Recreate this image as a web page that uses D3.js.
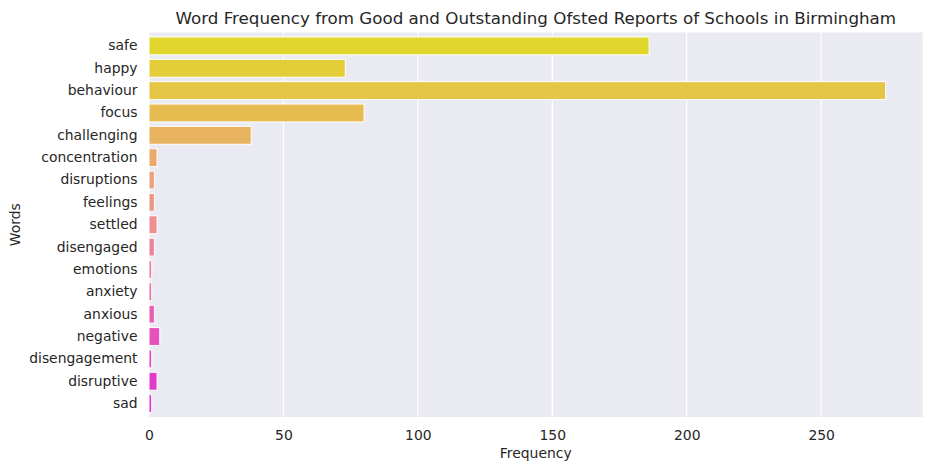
<!DOCTYPE html>
<html>
<head>
<meta charset="utf-8">
<script src="https://cdn.jsdelivr.net/npm/d3@7"></script>
<style>
  body { margin: 0; background: #fff; }
  svg { font-family: "DejaVu Sans", sans-serif; }
</style>
</head>
<body>
<div id="chart"></div>
<script>
// data
const words = ["safe", "happy", "behaviour", "focus", "challenging", "concentration",
  "disruptions", "feelings", "settled", "disengaged", "emotions", "anxiety",
  "anxious", "negative", "disengagement", "disruptive", "sad"];
const counts = [186, 73, 274, 80, 38, 3, 2, 2, 3, 2, 1, 1, 2, 4, 1, 3, 1];
const xTicks = [0, 50, 100, 150, 200, 250];

const width = 932, height = 470;
const margin = { top: 32.5, right: 9.5, bottom: 53, left: 149 };
const fontSize = 13.9;

const svg = d3.select("#chart")
    .append("svg")
    .attr("width", width)
    .attr("height", height);

// spring_r palette, sampled like seaborn, then desaturated to 0.75
const n = words.length;
const colors = words.map((w, i) => {
    const t = (i + 1) / (n + 1);
    const c = d3.rgb(255, 255 * (1 - t), 255 * t);
    const h = d3.hsl(c);
    h.s = h.s * 0.75;
    return h.formatHex();
});

const x = d3.scaleLinear()
    .domain([0, d3.max(counts) * 1.05])
    .range([margin.left, width - margin.right]);

const y = d3.scaleBand()
    .domain(words)
    .range([margin.top, height - margin.bottom])
    .padding(0.2);

// plot background
svg.append("rect")
    .attr("x", margin.left)
    .attr("y", margin.top)
    .attr("width", width - margin.right - margin.left)
    .attr("height", height - margin.bottom - margin.top)
    .attr("fill", "#eaeaf2");

// grid lines
svg.append("g")
    .selectAll("line")
    .data(xTicks)
    .join("line")
    .attr("x1", d => x(d))
    .attr("x2", d => x(d))
    .attr("y1", margin.top)
    .attr("y2", height - margin.bottom)
    .attr("stroke", "#fff")
    .attr("stroke-width", 1.2);

// bars
svg.append("g")
    .selectAll("rect")
    .data(words)
    .join("rect")
    .attr("x", x(0))
    .attr("y", d => y(d))
    .attr("width", (d, i) => x(counts[i]) - x(0))
    .attr("height", y.bandwidth())
    .attr("fill", (d, i) => colors[i])
    .attr("stroke", "#fff")
    .attr("stroke-width", 1);

// x axis
const xAxis = svg.append("g")
    .attr("transform", `translate(0,${height - margin.bottom})`)
    .call(d3.axisBottom(x).tickValues(xTicks).tickSize(0).tickPadding(13));
xAxis.select(".domain").remove();
xAxis.selectAll("text")
    .attr("font-size", fontSize)
    .attr("font-family", "DejaVu Sans")
    .attr("fill", "#262626");

// y axis
const yAxis = svg.append("g")
    .attr("transform", `translate(${margin.left},0)`)
    .call(d3.axisLeft(y).tickSize(0).tickPadding(11.5));
yAxis.select(".domain").remove();
yAxis.selectAll("text")
    .attr("font-size", fontSize)
    .attr("font-family", "DejaVu Sans")
    .attr("fill", "#262626");

// labels
svg.append("text")
    .attr("x", (margin.left + width - margin.right) / 2)
    .attr("y", 458)
    .attr("text-anchor", "middle")
    .attr("font-size", fontSize)
    .attr("fill", "#262626")
    .text("Frequency");

svg.append("text")
    .attr("transform", `translate(20,${(margin.top + height - margin.bottom) / 2}) rotate(-90)`)
    .attr("text-anchor", "middle")
    .attr("font-size", fontSize)
    .attr("fill", "#262626")
    .text("Words");

svg.append("text")
    .attr("x", (margin.left + width - margin.right) / 2)
    .attr("y", 23.5)
    .attr("text-anchor", "middle")
    .attr("font-size", 16.7)
    .attr("fill", "#262626")
    .text("Word Frequency from Good and Outstanding Ofsted Reports of Schools in Birmingham");
</script>
</body>
</html>
